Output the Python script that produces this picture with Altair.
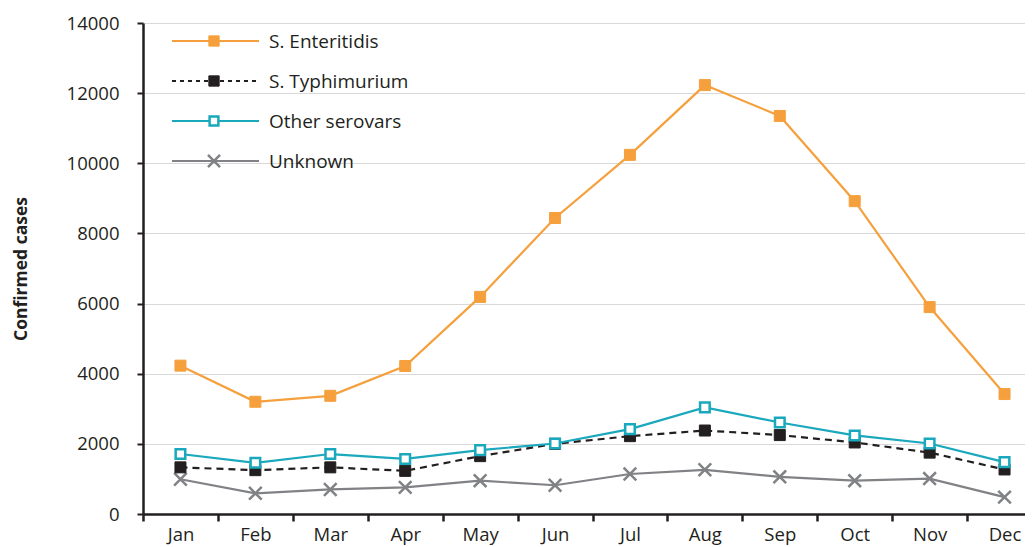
import altair as alt
import pandas as pd

months = ["Jan", "Feb", "Mar", "Apr", "May", "Jun", "Jul", "Aug", "Sep", "Oct", "Nov", "Dec"]
enteritidis = [4230, 3200, 3370, 4220, 6190, 8440, 10240, 12230, 11350, 8920, 5900, 3420]
typhimurium = [1330, 1250, 1330, 1230, 1650, 2000, 2220, 2380, 2250, 2040, 1750, 1270]
other_serovars = [1710, 1460, 1710, 1570, 1820, 2010, 2420, 3040, 2610, 2240, 2010, 1480]
unknown = [990, 590, 700, 760, 950, 820, 1140, 1260, 1060, 950, 1010, 480]

series_names = ["S. Enteritidis", "S. Typhimurium", "Other serovars", "Unknown"]
y_ticks = [0, 2000, 4000, 6000, 8000, 10000, 12000, 14000]

ORANGE = "#F5A03C"
BLACK = "#231F20"
TEAL = "#19A8BC"
GREY = "#808285"
FONT = "Open Sans"
CROSS = "M-1,-1L1,1M-1,1L1,-1"

styles = {
    "S. Enteritidis": dict(color=ORANGE, dash=None, shape="square", fill=ORANGE, size=121, sw=1),
    "S. Typhimurium": dict(color=BLACK, dash=[7, 5], shape="square", fill=BLACK, size=121, sw=1),
    "Other serovars": dict(color=TEAL, dash=None, shape="square", fill="white", size=92, sw=2.5),
    "Unknown": dict(color=GREY, dash=None, shape=CROSS, fill=None, size=160, sw=2.5),
}
values = {
    "S. Enteritidis": enteritidis,
    "S. Typhimurium": typhimurium,
    "Other serovars": other_serovars,
    "Unknown": unknown,
}

x_enc = alt.X(
    "month:N",
    sort=months,
    scale=alt.Scale(type="band", domain=months, paddingInner=0, paddingOuter=0),
    axis=alt.Axis(
        title=None, tickBand="extent", labelAngle=0, labelPadding=4,
        tickSize=7, tickWidth=2.5, domainWidth=2.5, labelFontSize=18.5,
    ),
)
y_enc = alt.Y(
    "value:Q",
    scale=alt.Scale(domain=[0, 14000], nice=False),
    axis=alt.Axis(
        title="Confirmed cases", values=y_ticks, format="d", tickSize=6, tickWidth=2,
        labelPadding=18, labelFontSize=18.5, domainWidth=2.5,
        grid=True, gridColor="#D9D9D9", gridWidth=1,
        titleFontWeight="bold", titleFontSize=17.5, titleX=-122, titleBaseline="middle",
        titleAngle=-90,
    ),
)

layers = []
order = ["Unknown", "S. Typhimurium", "Other serovars", "S. Enteritidis"]
for name in order:
    st = styles[name]
    df = pd.DataFrame({"month": months, "value": values[name]})
    base = alt.Chart(df).encode(x=x_enc, y=y_enc)
    line_kw = dict(color=st["color"], strokeWidth=2.2)
    if st["dash"]:
        line_kw["strokeDash"] = st["dash"]
    layers.append(base.mark_line(**line_kw))
    pt_kw = dict(shape=st["shape"], size=st["size"], stroke=st["color"], strokeWidth=st["sw"], opacity=1)
    if st["fill"]:
        pt_kw["fill"] = st["fill"]
        pt_kw["filled"] = True
    else:
        pt_kw["filled"] = False
    layers.append(base.mark_point(**pt_kw))

# manual legend (top-left, inside the plot)
for i, name in enumerate(series_names):
    st = styles[name]
    ly = 18 + 40 * i
    ldf = pd.DataFrame({"label": [name]})
    lb = alt.Chart(ldf)
    rule_kw = dict(color=st["color"], strokeWidth=2.2)
    if st["dash"]:
        rule_kw["strokeDash"] = [4, 4]
    layers.append(lb.mark_rule(**rule_kw).encode(x=alt.value(29), x2=alt.value(116), y=alt.value(ly)))
    pt_kw = dict(shape=st["shape"], size=st["size"] - 15, stroke=st["color"], strokeWidth=st["sw"], opacity=1)
    if st["fill"]:
        pt_kw["fill"] = st["fill"]
        pt_kw["filled"] = True
    else:
        pt_kw["filled"] = False
    layers.append(lb.mark_point(**pt_kw).encode(x=alt.value(71), y=alt.value(ly)))
    layers.append(
        lb.mark_text(align="left", baseline="middle", font=FONT, fontSize=19, color=BLACK).encode(
            x=alt.value(126), y=alt.value(ly + 1), text="label:N"
        )
    )

chart = (
    alt.layer(*layers)
    .properties(
        width=899,
        height=491,
        padding={"left": 135, "top": 15, "right": -17, "bottom": 33},
        autosize=alt.AutoSizeParams(type="none"),
        background="white",
    )
    .configure_view(stroke=None)
    .configure_axis(
        labelFont=FONT, titleFont=FONT, labelColor=BLACK, titleColor=BLACK,
        domainColor=BLACK, tickColor=BLACK,
    )
)

chart.save("out.html", embed_options={"renderer": "svg", "actions": False})
